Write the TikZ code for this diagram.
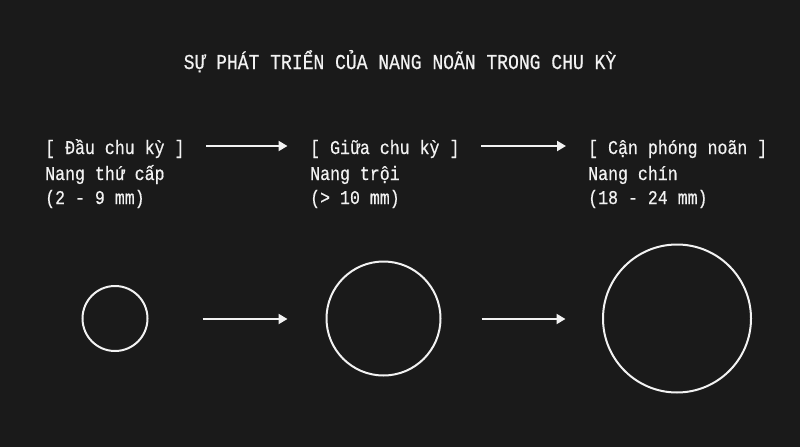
\documentclass[tikz,border=0pt]{standalone}
\usepackage{fontspec}
\setmainfont{Liberation Mono}[FakeBold=0.5,FakeStretch=0.85]
\usetikzlibrary{arrows.meta,calc}
\definecolor{bg}{HTML}{1A1A1A}
\definecolor{ink}{HTML}{F2F2F2}
\begin{document}
\begin{tikzpicture}[x=1pt,y=-1pt,
  txt/.style={anchor=base west,inner sep=0pt,text=ink,font=\fontsize{19.5}{22}\selectfont},
  ttl/.style={anchor=base,inner sep=0pt,text=ink,font=\fontsize{21.2}{24}\selectfont},
  ring/.style={circle,draw=ink,line width=2pt,inner sep=0pt},
  arr/.style={draw=ink,line width=2pt,-{Triangle[length=9pt,width=10pt]}}]
\fill[bg] (0,0) rectangle (800,447);
\useasboundingbox (0,0) rectangle (800,447);
\node[ttl] (title) at (400,69) {SỰ PHÁT TRIỂN CỦA NANG NOÃN TRONG CHU KỲ};
% column 1
\node[txt] (h1) at (45,154) {[ Đầu chu kỳ ]};
\node[txt] (n1) at (45,180) {Nang thứ cấp};
\node[txt] (s1) at (45,204) {(2 - 9 mm)};
% column 2
\node[txt] (h2) at (310,154) {[ Giữa chu kỳ ]};
\node[txt] (n2) at (310,180) {Nang trội};
\node[txt] (s2) at (310,204) {(> 10 mm)};
% column 3
\node[txt] (h3) at (588,154) {[ Cận phóng noãn ]};
\node[txt] (n3) at (588,180) {Nang chín};
\node[txt] (s3) at (588,204) {(18 - 24 mm)};
% top arrows
\draw[arr] ($(h1.base west)+(161,-8)$) -- ($(h2.base west)+(-22.5,-8)$);
\draw[arr] ($(h2.base west)+(171,-8)$) -- ($(h3.base west)+(-22,-8)$);
% circles
\node[ring,minimum size=65pt] (c1) at (115,318.5) {};
\node[ring,minimum size=114pt] (c2) at (383.5,318.5) {};
\node[ring,minimum size=148pt] (c3) at (677,318.5) {};
% bottom arrows
\draw[arr] ($(c1.east)+(54,0.5)$) -- ($(c2.west)+(-38,0.5)$);
\draw[arr] ($(c2.east)+(40,0.5)$) -- ($(c3.west)+(-36.5,0.5)$);
\end{tikzpicture}
\end{document}
